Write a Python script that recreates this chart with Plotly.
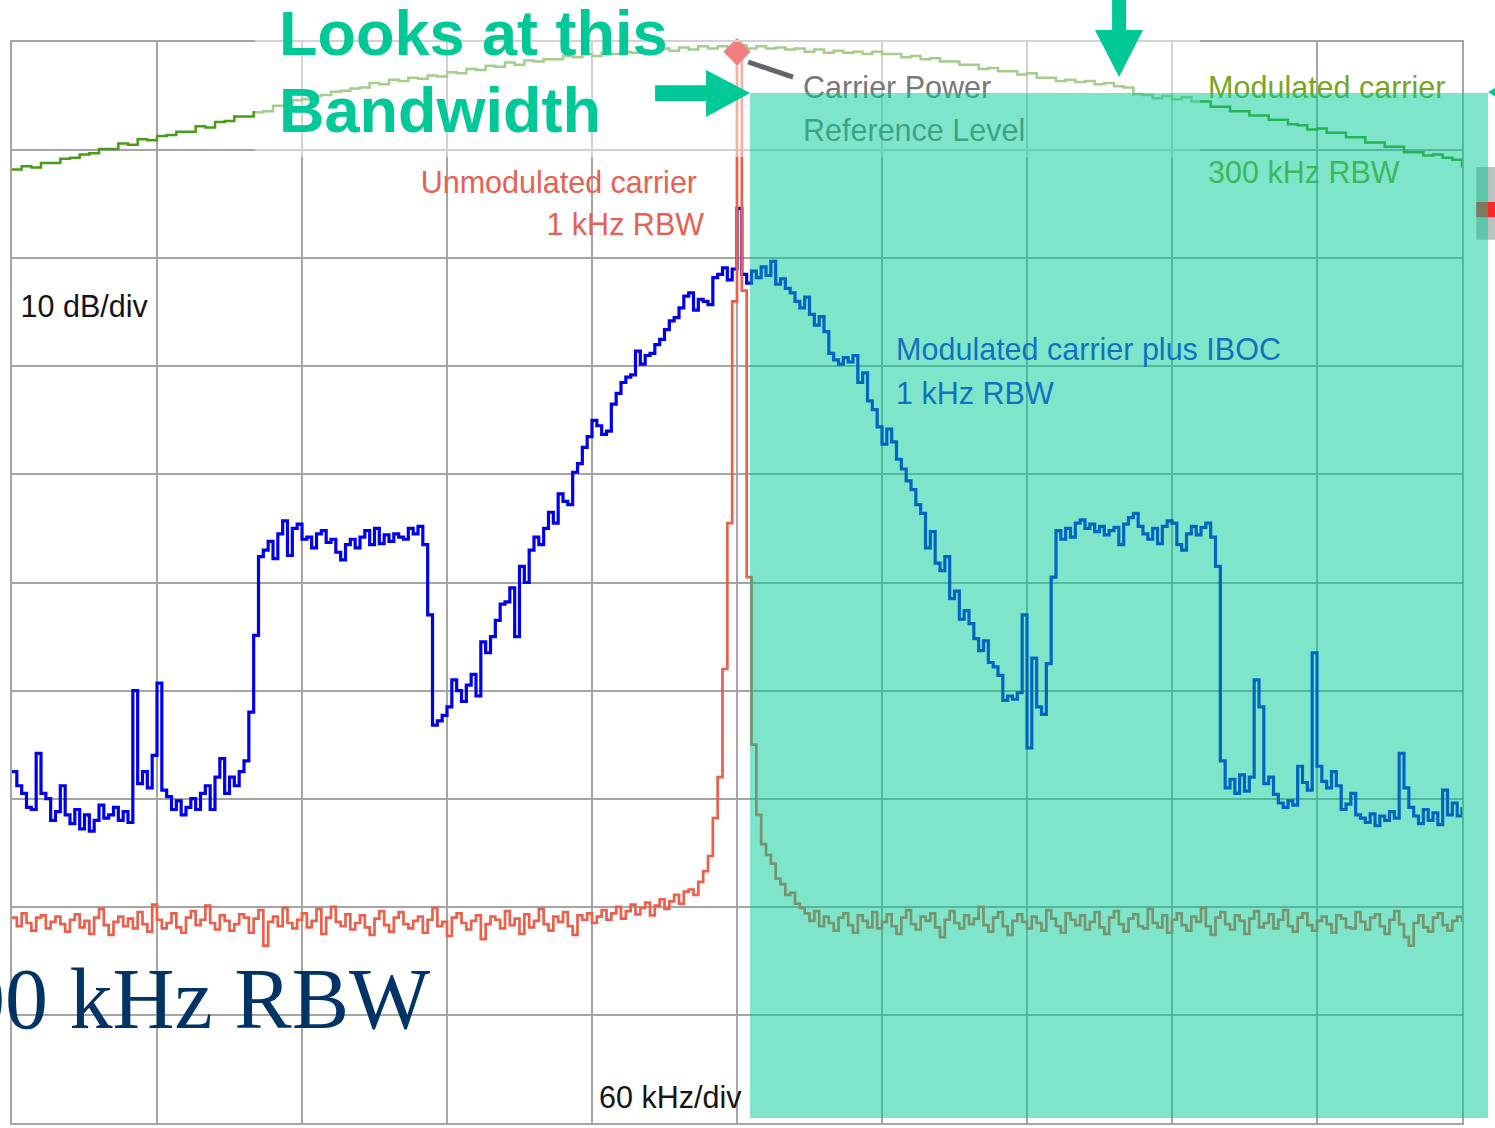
import numpy as np
import plotly.graph_objects as go

# Spectrum analyzer sweep: 600 kHz span centred on the carrier, 10 dB/div
SPAN_START_KHZ = -300
SPAN_STOP_KHZ = 300
TOP_DB = 0
BOTTOM_DB = -100

# Modulated carrier plus IBOC, 1 kHz RBW (dB, 2 kHz bins)
iboc_1k = [
    -67.5, -68.8, -69.5, -70.8, -71.0, -65.8, -69.5, -70.0, -72.0, -71.2,
    -68.8, -71.5, -72.3, -71.0, -72.8, -71.5, -73.0, -72.0, -70.6, -71.8,
    -71.5, -70.8, -72.0, -71.2, -72.2, -60.0, -68.6, -67.5, -69.0, -66.0,
    -59.3, -69.2, -69.8, -71.0, -70.2, -71.5, -70.8, -70.0, -71.0, -69.5,
    -68.8, -71.0, -68.0, -66.3, -69.5, -68.0, -68.8, -67.5, -66.5, -62.0,
    -54.9, -47.6, -47.0, -46.2, -47.8, -45.5, -44.3, -47.5, -45.0, -44.6,
    -46.0, -45.8, -46.8, -45.5, -45.2, -46.3, -46.0, -47.2, -47.9, -46.5,
    -46.0, -46.8, -45.8, -45.2, -46.5, -45.0, -46.4, -45.6, -46.2, -45.5,
    -45.8, -46.0, -45.0, -45.5, -44.8, -46.5, -53.0, -63.2, -62.8, -62.3,
    -61.5, -59.0, -60.0, -61.0, -59.5, -58.5, -60.5, -55.5, -56.5, -55.0,
    -53.5, -52.0, -51.8, -50.5, -55.0, -48.5, -50.0, -47.0, -45.8, -46.5,
    -45.0, -43.5, -44.5, -41.8, -42.5, -42.8, -39.8, -39.0, -37.5, -36.5,
    -35.0, -35.5, -36.3, -36.0, -33.5, -32.5, -31.5, -31.0, -30.8, -28.6,
    -29.8, -29.0, -28.8, -28.0, -27.5, -26.6, -25.8, -25.5, -24.6, -23.5,
    -23.2, -24.8, -23.8, -24.0, -24.3, -21.8, -21.5, -20.9, -22.0, -21.0,
    -15.4, -21.5, -22.3, -21.2, -21.8, -20.8, -21.6, -20.3, -22.4, -21.9,
    -22.8, -23.2, -24.0, -24.6, -23.6, -25.2, -26.2, -25.4, -26.8, -28.8,
    -29.4, -29.8, -29.2, -29.6, -29.0, -31.5, -30.6, -33.2, -34.0, -35.6,
    -37.2, -35.8, -37.0, -38.6, -39.5, -40.6, -41.4, -42.8, -43.6, -46.8,
    -45.3, -48.2, -48.9, -47.6, -51.5, -50.8, -53.4, -52.6, -53.8, -55.2,
    -56.3, -55.4, -57.4, -57.8, -58.6, -60.9, -60.5, -60.8, -60.2, -53.0,
    -65.3, -57.0, -61.5, -62.2, -57.5, -49.5, -45.2, -46.0, -45.0, -45.8,
    -44.5, -44.2, -45.0, -44.6, -45.3, -44.8, -45.6, -45.2, -44.9, -46.5,
    -44.6, -44.0, -43.6, -44.8, -45.5, -46.0, -45.0, -46.4, -44.8, -44.3,
    -44.5, -46.5, -47.0, -45.5, -44.8, -45.6, -44.9, -44.5, -45.8, -48.5,
    -66.5, -69.0, -68.2, -69.5, -67.8, -69.3, -68.0, -59.0, -61.5, -68.6,
    -68.0, -69.6, -70.4, -70.8, -70.2, -70.6, -67.0, -68.5, -69.2, -56.5,
    -67.0, -68.4, -69.0, -67.5, -68.8, -71.0, -70.5, -69.5, -71.5, -71.8,
    -72.2, -71.4, -72.5, -71.6, -72.0, -71.2, -71.8, -65.8, -69.0, -70.8,
    -71.6, -72.3, -71.0, -72.0, -71.3, -72.4, -69.2, -71.5, -70.4, -71.6,
    -70.8,
]

# Unmodulated carrier, 1 kHz RBW (dB, 2 kHz bins)
carrier_1k = [
    -81.0, -81.8, -80.6, -81.5, -82.2, -81.0, -80.8, -82.0, -81.4, -80.9,
    -81.6, -82.3, -81.2, -80.7, -81.9, -81.3, -82.5, -81.0, -80.2, -81.7,
    -82.6, -81.4, -80.9, -81.8, -81.1, -82.0, -80.5, -81.6, -82.3, -79.8,
    -81.2, -82.0, -81.5, -80.6, -81.9, -82.4, -81.0, -80.4, -81.7, -81.2,
    -79.9, -81.5, -82.1, -80.8, -81.3, -82.2, -81.6, -80.7, -81.0, -82.4,
    -81.1, -80.3, -83.6, -81.4, -80.9, -81.8, -80.1, -81.5, -82.0, -81.2,
    -80.6, -81.9, -81.3, -80.2, -82.5, -81.0, -80.0, -81.4, -81.8, -80.7,
    -82.1, -81.5, -80.8, -81.9, -82.6, -81.1, -80.4, -81.7, -82.3, -81.0,
    -80.5, -81.6, -82.0, -81.3, -80.9, -82.4, -81.2, -80.1, -81.8, -81.4,
    -82.7, -81.0, -80.6, -81.5, -82.1, -81.3, -80.8, -83.0, -81.6, -80.9,
    -81.2, -82.0, -80.4, -81.7, -81.1, -82.5, -80.7, -81.9, -81.3, -80.2,
    -81.6, -82.2, -80.9, -81.4, -80.5, -81.8, -82.6, -80.8, -81.2, -80.6,
    -81.5, -80.9, -80.3, -81.2, -80.6, -80.0, -81.1, -80.4, -79.8, -80.7,
    -80.1, -79.6, -80.8, -79.9, -79.3, -80.2, -79.5, -78.9, -79.7, -78.6,
    -78.4, -78.9, -77.7, -76.7, -75.3, -71.8, -68.0, -58.0, -44.5, -24.0,
    -0.8, -23.0, -49.5, -65.0, -71.5, -74.2, -75.2, -76.0, -77.4, -77.9,
    -78.9, -78.7, -79.7, -80.1, -80.6, -81.3, -80.4, -81.8, -80.9, -81.5,
    -82.2, -81.0, -80.6, -81.7, -82.4, -80.8, -81.3, -81.9, -80.5, -82.0,
    -81.4, -80.7, -81.8, -82.5, -81.0, -80.3, -81.6, -82.1, -80.9, -81.3,
    -80.6, -81.9, -82.8, -81.2, -80.4, -81.5, -82.0, -80.8, -81.6, -81.1,
    -80.0, -81.7, -82.3, -81.0, -80.5, -81.8, -82.6, -81.3, -80.7, -81.4,
    -82.0, -80.9, -81.5, -82.2, -80.3, -81.1, -81.8, -82.4, -80.6, -81.2,
    -81.7, -80.8, -82.1, -81.4, -80.5, -81.9, -82.5, -81.0, -80.4, -81.6,
    -82.3, -81.1, -80.7, -81.8, -82.0, -80.2, -81.5, -81.9, -80.8, -82.4,
    -81.2, -80.6, -81.7, -82.2, -80.9, -81.4, -80.1, -81.8, -82.6, -81.0,
    -80.5, -81.6, -82.1, -80.8, -81.3, -82.5, -81.1, -80.4, -81.9, -81.5,
    -80.7, -82.0, -81.2, -80.3, -81.8, -82.3, -81.0, -80.6, -81.7, -82.2,
    -81.3, -80.9, -81.6, -82.4, -80.8, -81.1, -81.9, -82.0, -80.5, -81.4,
    -82.1, -81.0, -80.7, -81.8, -82.5, -81.2, -80.4, -81.6, -82.8, -83.6,
    -81.5, -80.8, -81.9, -82.3, -81.0, -80.6, -81.7, -82.2, -81.3, -80.9,
    -81.4,
]

# Modulated carrier, 300 kHz RBW (dB, 4 kHz bins)
modulated_300k = [
    -11.8, -11.5, -11.6, -11.2, -11.2, -10.8, -10.7, -10.4, -10.3, -9.9,
    -9.9, -9.4, -9.5, -9.0, -9.1, -8.7, -8.6, -8.3, -8.3, -7.8,
    -7.9, -7.4, -7.3, -6.9, -6.9, -6.5, -6.4, -5.9, -5.9, -5.4,
    -5.3, -5.0, -4.9, -4.6, -4.5, -4.3, -4.2, -3.8, -3.9, -3.5,
    -3.6, -3.3, -3.4, -3.1, -3.2, -2.8, -2.9, -2.5, -2.6, -2.2,
    -2.3, -1.9, -2.1, -1.7, -1.8, -1.6, -1.6, -1.3, -1.4, -1.1,
    -1.3, -1.0, -1.1, -0.9, -1.0, -0.8, -0.9, -0.6, -0.8, -0.5,
    -0.7, -0.4, -0.6, -0.4, -0.5, -0.3, -0.6, -0.4, -0.6, -0.5,
    -0.7, -0.6, -0.9, -0.7, -1.0, -0.8, -1.0, -0.9, -1.1, -0.9,
    -1.1, -1.1, -1.4, -1.3, -1.6, -1.5, -1.8, -1.8, -2.1, -2.1,
    -2.5, -2.4, -2.7, -2.7, -3.0, -2.9, -3.3, -3.3, -3.6, -3.5,
    -3.7, -3.6, -3.9, -3.8, -4.1, -4.2, -4.8, -4.9, -5.2, -5.0,
    -5.3, -5.1, -5.5, -5.5, -6.0, -6.0, -6.4, -6.4, -6.8, -6.8,
    -7.2, -7.2, -7.6, -7.7, -8.1, -8.0, -8.4, -8.4, -8.8, -8.8,
    -9.3, -9.3, -9.7, -9.7, -10.2, -10.2, -10.5, -10.4, -10.7, -10.9,
    -11.6,
]

# Carrier power reference marker
marker_khz = [0]
marker_db = [-0.9]

freq_1k = np.linspace(SPAN_START_KHZ, SPAN_STOP_KHZ, len(iboc_1k))
freq_300k = np.linspace(SPAN_START_KHZ, SPAN_STOP_KHZ, len(modulated_300k))

BLUE = "rgb(0,0,235)"
RED = "rgb(235,95,75)"
GREEN = "rgb(75,155,25)"
TEAL = "rgb(0,200,150)"
GRID = "rgb(165,165,165)"
LABEL_FONT = "Liberation Sans, Arial, sans-serif"
LABEL_SIZE = 30.5


def px(khz):
    return (khz - SPAN_START_KHZ) / (SPAN_STOP_KHZ - SPAN_START_KHZ)


def py(db):
    return (db - BOTTOM_DB) / (TOP_DB - BOTTOM_DB)


fig = go.Figure()
fig.add_trace(go.Scatter(x=freq_300k, y=modulated_300k, mode="lines", line_shape="hv",
                         line=dict(color=GREEN, width=2.5), hoverinfo="skip"))
fig.add_trace(go.Scatter(x=freq_1k, y=iboc_1k, mode="lines", line_shape="hv",
                         line=dict(color=BLUE, width=3.2), hoverinfo="skip"))
fig.add_trace(go.Scatter(x=freq_1k, y=carrier_1k, mode="lines", line_shape="hv",
                         line=dict(color=RED, width=2.7), hoverinfo="skip"))
fig.add_trace(go.Scatter(x=marker_khz, y=marker_db, mode="markers",
                         marker=dict(symbol="diamond", size=21, color="rgb(230,0,0)"),
                         cliponaxis=False, hoverinfo="skip"))


def text_label(text, khz, db, color, align="left"):
    """Invisible rect carrying a text label, so it stacks between overlays."""
    if align == "left":
        x0, x1, pos = px(khz), px(khz) + 0.2, "middle left"
    else:
        x0, x1, pos = px(khz) - 0.2, px(khz), "middle right"
    return dict(type="rect", xref="paper", yref="paper",
                x0=x0, x1=x1, y0=py(db) - 0.004, y1=py(db) + 0.004,
                line=dict(width=0), fillcolor="rgba(0,0,0,0)", layer="above",
                label=dict(text=text, textposition=pos, padding=0,
                           font=dict(family=LABEL_FONT, size=LABEL_SIZE, color=color)))


def poly(points, color):
    path = "M " + " L ".join(f"{px(x)},{py(y)}" for x, y in points) + " Z"
    return dict(type="path", xref="paper", yref="paper", path=path,
                fillcolor=color, line=dict(width=0), layer="above")


shapes = []
# translucent white panel behind the headline
shapes.append(dict(type="rect", xref="paper", yref="paper",
                   x0=px(-199.4), x1=px(191.6), y0=py(-10.64), y1=py(5.0),
                   fillcolor="rgba(255,255,255,0.5)", line=dict(width=0), layer="above"))
# leader from the reference marker to its caption
shapes.append(dict(type="line", xref="paper", yref="paper",
                   x0=px(4.6), y0=py(-1.85), x1=px(23.2), y1=py(-3.24),
                   line=dict(color="rgb(100,100,110)", width=5), layer="above"))

shapes += [
    text_label("Carrier Power", 26.1, -3.95, "rgb(120,120,120)"),
    text_label("Reference Level", 26.1, -7.95, "rgb(120,120,120)"),
    text_label("Unmodulated carrier", -15.3, -12.75, "rgb(232,96,80)", align="right"),
    text_label("1 kHz RBW", -12.4, -16.65, "rgb(232,96,80)", align="right"),
    text_label("Modulated carrier plus IBOC", 64.6, -28.2, "rgb(40,20,230)"),
    text_label("1 kHz RBW", 64.6, -32.2, "rgb(40,20,230)"),
    text_label("Modulated carrier", 193.7, -3.9, "rgb(120,165,30)"),
    text_label("300 kHz RBW", 193.7, -11.75, "rgb(120,165,30)"),
    text_label("10 dB/div", -297.7, -24.2, "rgb(20,20,20)"),
    text_label("60 kHz/div", -58.3, -97.4, "rgb(20,20,20)"),
]

# small widget at the right edge
shapes.append(dict(type="rect", xref="paper", yref="paper",
                   x0=px(305.9), x1=px(313.7), y0=py(-18.3), y1=py(-11.56),
                   fillcolor="rgb(192,192,192)", line=dict(width=0), layer="above"))
shapes.append(dict(type="rect", xref="paper", yref="paper",
                   x0=px(305.9), x1=px(313.7), y0=py(-16.2), y1=py(-14.8),
                   fillcolor="rgb(250,40,40)", line=dict(width=0), layer="above"))

# highlighted upper sideband
shapes.append(dict(type="rect", xref="paper", yref="paper",
                   x0=px(5.4), x1=px(310.8), y0=py(-99.54), y1=py(-4.72),
                   fillcolor="rgba(0,204,150,0.5)", line=dict(width=0), layer="above"))

# arrows
shapes.append(poly([(-33.9, -4.0), (-12.8, -4.0), (-12.8, -2.6), (5.4, -4.72),
                    (-12.8, -6.94), (-12.8, -5.45), (-33.9, -5.45)], TEAL))
shapes.append(poly([(155.2, 4.5), (161.0, 4.5), (161.0, 1.1), (168.0, 1.1),
                    (158.1, -3.24), (148.1, 1.1), (155.2, 1.1)], TEAL))
shapes.append(poly([(310.8, -4.62), (314.0, -4.2), (314.0, -5.1)], TEAL))

annotations = [
    dict(text="<b>Looks at this</b>", x=px(-190.3), y=py(0.83), xref="paper", yref="paper",
         xanchor="left", yanchor="middle", showarrow=False,
         font=dict(family="Liberation Sans, Arial, sans-serif", size=63, color=TEAL)),
    dict(text="<b>Bandwidth</b>", x=px(-190.3), y=py(-6.29), xref="paper", yref="paper",
         xanchor="left", yanchor="middle", showarrow=False,
         font=dict(family="Liberation Sans, Arial, sans-serif", size=63, color=TEAL)),
    dict(text="300 kHz RBW", x=px(-126.2), y=py(-88.53), xref="paper", yref="paper",
         xanchor="right", yanchor="middle", showarrow=False,
         font=dict(family="Liberation Serif, Times New Roman, serif", size=86,
                   color="rgb(0,51,102)")),
]

axis_common = dict(showgrid=True, gridcolor=GRID, gridwidth=2, zeroline=False,
                   showticklabels=False, ticks="", showline=True, mirror=True,
                   linecolor=GRID, linewidth=2, fixedrange=True)

fig.update_layout(
    width=1495, height=1128,
    margin=dict(l=12, r=33, t=42, b=5),
    paper_bgcolor="white", plot_bgcolor="white",
    showlegend=False,
    xaxis=dict(range=[SPAN_START_KHZ, SPAN_STOP_KHZ], dtick=60, tick0=0, **axis_common),
    yaxis=dict(range=[BOTTOM_DB, TOP_DB], dtick=10, tick0=0, **axis_common),
    shapes=shapes,
    annotations=annotations,
)

fig.write_html("out.html")
